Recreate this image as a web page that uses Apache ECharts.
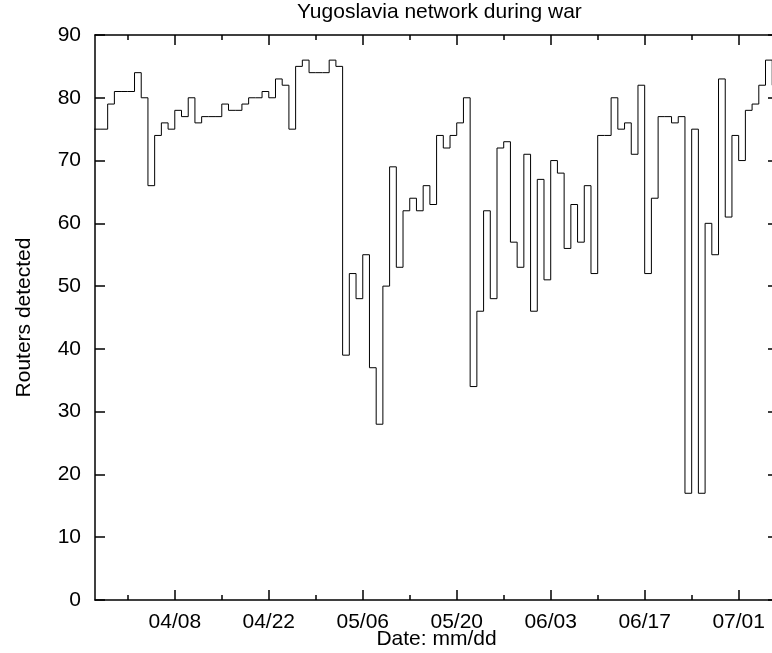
<!DOCTYPE html>
<html>
<head>
<meta charset="utf-8">
<script src="https://cdn.jsdelivr.net/npm/echarts@6/dist/echarts.min.js"></script>
<style>
  html, body { margin: 0; padding: 0; background: #fff; }
  #chart { width: 772px; height: 653px; }
</style>
</head>
<body>
<div id="chart"></div>
<script>
  // day 0 = 03/27, one value per day
  const routers = [
    75, 75, 79, 81, 81, 81, 84, 80, 66, 74,
    76, 75, 78, 77, 80, 76, 77, 77, 77, 79,
    78, 78, 79, 80, 80, 81, 80, 83, 82, 75,
    85, 86, 84, 84, 84, 86, 85, 39, 52, 48,
    55, 37, 28, 50, 69, 53, 62, 64, 62, 66,
    63, 74, 72, 74, 76, 80, 34, 46, 62, 48,
    72, 73, 57, 53, 71, 46, 67, 51, 70, 68,
    56, 63, 57, 66, 52, 74, 74, 80, 75, 76,
    71, 82, 52, 64, 77, 77, 76, 77, 17, 75,
    17, 60, 55, 83, 61, 74, 70, 78, 79, 82,
    86, 82
  ]
  const majorDays = [12, 26, 40, 54, 68, 82, 96]
  const majorLabels = ['04/08', '04/22', '05/06', '05/20', '06/03', '06/17', '07/01']
  const minorDays = [5, 19, 33, 47, 61, 75, 89, 103]
  const yTicks = [0, 10, 20, 30, 40, 50, 60, 70, 80, 90]

  const font = 'Liberation Sans'
  const xMin = 0.113
  const xMax = 101.86

  const chart = echarts.init(document.getElementById('chart'))

  const tickAxis = (pos, days, len, withLine) => ({
    type: 'value',
    position: pos,
    min: xMin,
    max: xMax,
    axisLine: { show: withLine, onZero: false, lineStyle: { color: '#000', width: 1.5 } },
    axisTick: { show: true, inside: true, length: len, customValues: days, lineStyle: { color: '#000', width: 1.5 } },
    axisLabel: { show: false },
    splitLine: { show: false }
  })

  const option = {
    animation: false,
    backgroundColor: '#fff',
    title: {
      text: 'Yugoslavia network during war',
      left: 297,
      top: 2,
      padding: 0,
      textStyle: { fontFamily: font, fontSize: 21, fontWeight: 'normal', color: '#000' }
    },
    // keep the plot box fixed, the right edge runs just past the canvas
    grid: { left: 95, top: 35, width: 683, height: 565, outerBoundsMode: 'none', containLabel: false },
    xAxis: [
      {
        type: 'value',
        position: 'bottom',
        min: xMin,
        max: xMax,
        name: 'Date: mm/dd',
        nameLocation: 'middle',
        nameGap: 29,
        nameMoveOverlap: false,
        nameTextStyle: { fontFamily: font, fontSize: 21, color: '#000' },
        axisLine: { show: true, onZero: false, lineStyle: { color: '#000', width: 1.5 } },
        axisTick: { show: true, inside: true, length: 10, customValues: majorDays, lineStyle: { color: '#000', width: 1.5 } },
        axisLabel: {
          customValues: majorDays,
          margin: 12,
          fontFamily: font,
          fontSize: 21,
          color: '#000',
          formatter: v => majorLabels[majorDays.indexOf(Math.round(v))]
        },
        splitLine: { show: false }
      },
      tickAxis('bottom', minorDays, 5, false),
      tickAxis('top', majorDays, 10, true),
      tickAxis('top', minorDays, 5, false)
    ],
    yAxis: [
      {
        type: 'value',
        position: 'left',
        min: 0,
        max: 90,
        interval: 10,
        name: 'Routers detected',
        nameLocation: 'middle',
        nameGap: 60,
        nameRotate: 90,
        nameMoveOverlap: false,
        nameTextStyle: { fontFamily: font, fontSize: 21, color: '#000' },
        axisLine: { show: true, lineStyle: { color: '#000', width: 1.5 } },
        axisTick: { show: true, inside: true, length: 10, customValues: yTicks, lineStyle: { color: '#000', width: 1.5 } },
        axisLabel: { margin: 14, fontFamily: font, fontSize: 21, color: '#000' },
        splitLine: { show: false }
      },
      {
        type: 'value',
        position: 'right',
        min: 0,
        max: 90,
        interval: 10,
        axisLine: { show: true, lineStyle: { color: '#000', width: 1.5 } },
        axisTick: { show: true, inside: true, length: 10, customValues: yTicks, lineStyle: { color: '#000', width: 1.5 } },
        axisLabel: { show: false },
        splitLine: { show: false }
      }
    ],
    series: [{
      type: 'line',
      step: 'end',
      symbol: 'none',
      clip: true,
      lineStyle: { color: '#000', width: 1 },
      data: routers.map((v, i) => [i, v])
    }]
  }

  chart.setOption(option)
</script>
</body>
</html>
